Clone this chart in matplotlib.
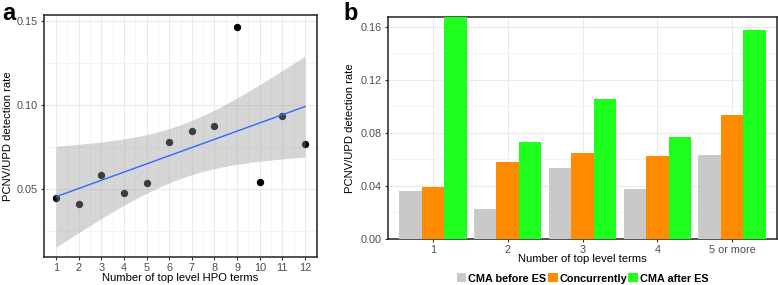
import numpy as np
import matplotlib
matplotlib.use("Agg")
import matplotlib.pyplot as plt

plt.rcParams['font.family'] = ['Liberation Sans', 'DejaVu Sans']

# Panel a data
hpo_terms = [1, 2, 3, 4, 5, 6, 7, 8, 9, 10, 11, 12]
hpo_rate = [0.0448, 0.0415, 0.0585, 0.0480, 0.0539, 0.0782, 0.0846, 0.0874,
            0.1464, 0.0541, 0.0937, 0.0769]

# Panel b data
groups = ["1", "2", "3", "4", "5 or more"]
series_names = ["CMA before ES", "Concurrently", "CMA after ES"]
cma_before = [0.0362, 0.0226, 0.0537, 0.0374, 0.0633]
concurrently = [0.0390, 0.0578, 0.0648, 0.0625, 0.0934]
cma_after = [0.1800, 0.0729, 0.1055, 0.0769, 0.1575]
colors = ["#C9C9C9", "#FF8C00", "#1EFF1E"]

W, H = 778, 285
fig = plt.figure(figsize=(W / 100, H / 100), dpi=100)

tick_col = "#4D4D4D"
grid_col = "#EBEBEB"
fs_tick = 7.8
fs_lab = 8.1

# ---------- Panel a ----------
ax = fig.add_axes([44 / W, 1 - 257 / H, (317 - 44) / W, (257 - 15) / H])
x = np.array(hpo_terms, float)
y = np.array(hpo_rate, float)
n = len(x)
b, a = np.polyfit(x, y, 1)
xs = np.linspace(x.min(), x.max(), 200)
yfit = a + b * xs
resid = y - (a + b * x)
s = np.sqrt(np.sum(resid ** 2) / (n - 2))
sxx = np.sum((x - x.mean()) ** 2)
tval = 2.228
se = s * np.sqrt(1 / n + (xs - x.mean()) ** 2 / sxx)

ax.scatter(x, y, s=28, color="black", zorder=3, linewidths=0)
ax.fill_between(xs, yfit - tval * se, yfit + tval * se, color="#999999", alpha=0.4,
                linewidth=0, zorder=4)
ax.plot(xs, yfit, color="#3366FF", lw=1.0, zorder=5)

ax.set_xlim(0.47, 12.53)
ax.set_ylim(0.0098, 0.1534)
ax.set_xticks(hpo_terms)
ax.set_xticks(np.arange(1.5, 12, 1), minor=True)
ax.set_yticks([0.05, 0.10, 0.15])
ax.set_yticks([0.025, 0.075, 0.125], minor=True)
ax.set_yticklabels(["0.05", "0.10", "0.15"])
ax.grid(True, which="major", color=grid_col, lw=0.8, zorder=0)
ax.grid(True, which="minor", color="#F3F3F3", lw=0.6, zorder=0)
ax.set_axisbelow(True)
ax.tick_params(which="both", length=0)
ax.tick_params(which="major", length=2.5, color="#333333", labelsize=fs_tick,
               labelcolor=tick_col, pad=2)
for sp in ax.spines.values():
    sp.set_color("#222222")
    sp.set_linewidth(1.1)
ax.set_xlabel("Number of top level HPO terms", fontsize=fs_lab, va="center")
ax.xaxis.set_label_coords(0.5, (257 - 278) / 242)
ax.set_ylabel("PCNV/UPD detection rate", fontsize=fs_lab, va="center")
ax.yaxis.set_label_coords((8 - 44) / 273, 0.5)

fig.text(2 / W, 1 - 2 / H, "a", fontsize=17, fontweight="bold", va="top", ha="left")

# ---------- Panel b ----------
bx = fig.add_axes([388 / W, 1 - 239 / H, (777 - 388) / W, (239 - 17.3) / H])
pos = np.arange(1, len(groups) + 1)
bw = 0.3
for i, (vals, name, c) in enumerate(zip([cma_before, concurrently, cma_after],
                                         series_names, colors)):
    bx.bar(pos + (i - 1) * bw, vals, width=bw, color=c, label=name, zorder=3,
           linewidth=0)
bx.set_xlim(0.4, 5.6)
bx.set_ylim(0, 0.167)
bx.set_xticks(pos)
bx.set_xticklabels(groups)
bx.set_yticks([0.0, 0.04, 0.08, 0.12, 0.16])
bx.set_yticklabels(["0.00", "0.04", "0.08", "0.12", "0.16"])
bx.set_yticks([0.02, 0.06, 0.10, 0.14], minor=True)
bx.grid(True, which="major", color=grid_col, lw=0.8, zorder=0)
bx.grid(True, which="minor", axis="y", color="#F3F3F3", lw=0.6, zorder=0)
bx.set_axisbelow(True)
bx.tick_params(which="both", length=0)
bx.tick_params(which="major", length=2.5, color="#333333", labelsize=fs_tick,
               labelcolor=tick_col, pad=2)
for sp in bx.spines.values():
    sp.set_color("#222222")
    sp.set_linewidth(1.1)
bx.set_xlabel("Number of top level terms", fontsize=fs_lab, va="center")
bx.xaxis.set_label_coords(0.5, (239 - 259) / 221.7)
bx.set_ylabel("PCNV/UPD detection rate", fontsize=fs_lab, va="center")
bx.yaxis.set_label_coords((350 - 388) / 389, 0.5)

leg = bx.legend(loc="center", bbox_to_anchor=(0.5, (239 - 278.5) / 221.7), ncol=3,
                frameon=False, prop={"weight": "bold", "size": 7.8},
                handlelength=0.9, handleheight=0.9, handletextpad=0.15,
                columnspacing=0.15, borderaxespad=0, borderpad=0)

fig.text(343 / W, 1 - 2 / H, "b", fontsize=17, fontweight="bold", va="top", ha="left")

fig.savefig("out.png", dpi=100)
